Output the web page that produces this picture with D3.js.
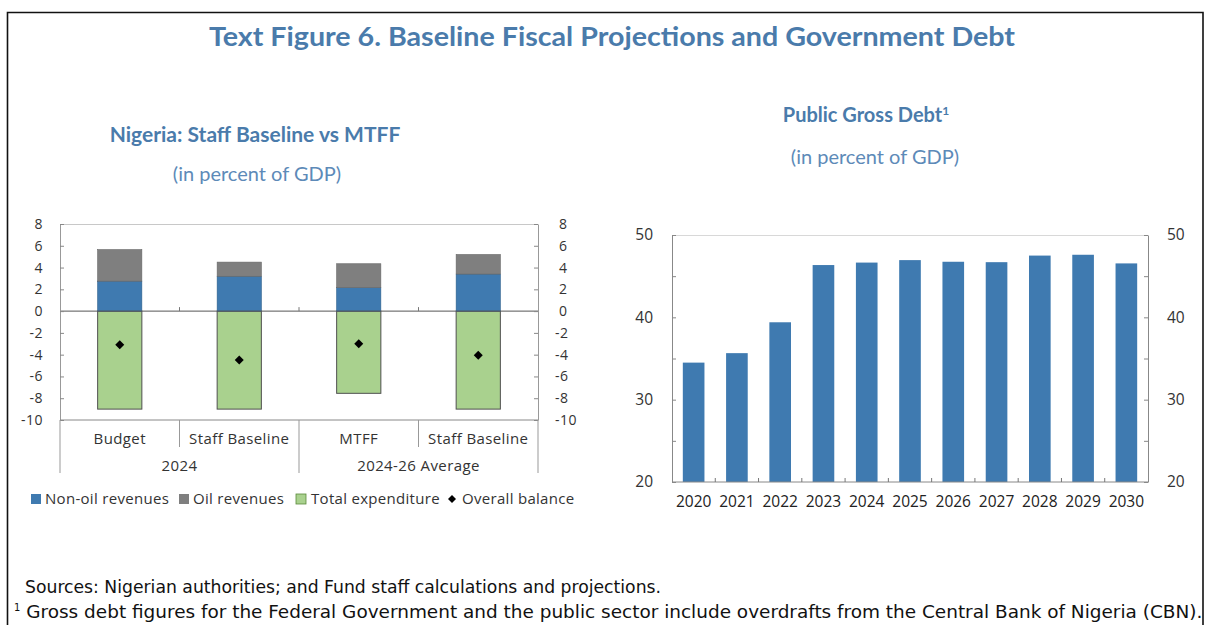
<!DOCTYPE html>
<html><head><meta charset="utf-8">
<script src="https://cdn.jsdelivr.net/npm/d3@7"></script>
<style>
body{margin:0;background:#fff;}
svg{display:block;}
text{font-family:"Open Sans","Noto Sans",sans-serif;}
</style></head>
<body>
<svg id="c" width="1205" height="625"></svg>
<script>
// ---- Data ----
const fiscalCats = ["Budget","Staff Baseline","MTFF","Staff Baseline "];
const fiscalCatLabels = ["Budget","Staff Baseline","MTFF","Staff Baseline"];
const fiscalGroups = ["2024","2024-26 Average"];
const nonOilRev = [2.75, 3.2, 2.15, 3.4];
const oilRev = [2.9, 1.3, 2.2, 1.8];
const totalExp = [9.0, 9.0, 7.55, 9.0];
const overallBal = [-3.1, -4.5, -3.0, -4.05];
const fiscalTicks = [-10,-8,-6,-4,-2,0,2,4,6,8];

const debtYears = ["2020","2021","2022","2023","2024","2025","2026","2027","2028","2029","2030"];
const debtValues = [34.5, 35.65, 39.4, 46.35, 46.65, 46.95, 46.75, 46.7, 47.5, 47.6, 46.55];
const debtTicks = [20,30,40,50];
const debtMinorTicks = [25,35,45];

const legendLabels = ["Non-oil revenues","Oil revenues","Total expenditure","Overall balance"];

// ---- Styles ----
const cBlue = "#3f7ab0", cGray = "#7f7f7f", cGreen = "#a9d18e", cTitle = "#4a7bab";
const svg = d3.select("#c");
const fmt = d => String(d);
const diamond = "M0,-4.5L4.5,0L0,4.5L-4.5,0Z";

// frame
svg.append("path").attr("d","M7.5,625 V12.5 H1203 V625").attr("fill","none").attr("stroke","#111").attr("stroke-width",1.6);

// titles
svg.append("text").attr("x",612).attr("y",46).attr("text-anchor","middle")
  .style("font-family","Lato, 'Open Sans', sans-serif").style("font-weight","bold").style("font-size","27px")
  .attr("fill",cTitle).attr("textLength",806).attr("lengthAdjust","spacingAndGlyphs")
  .text("Text Figure 6. Baseline Fiscal Projections and Government Debt");
svg.append("text").attr("x",255).attr("y",142).attr("text-anchor","middle")
  .style("font-family","Lato, sans-serif").style("font-weight","bold").style("font-size","21px")
  .attr("fill",cTitle).text("Nigeria: Staff Baseline vs MTFF");
svg.append("text").attr("x",257).attr("y",181).attr("text-anchor","middle")
  .style("font-family","Lato, sans-serif").style("font-size","20px")
  .attr("fill","#5d8ab8").text("(in percent of GDP)");
const pg = svg.append("text").attr("x",866).attr("y",122).attr("text-anchor","middle")
  .style("font-family","Lato, sans-serif").style("font-weight","bold").style("font-size","20px")
  .attr("fill",cTitle);
pg.append("tspan").text("Public Gross Debt");
pg.append("tspan").attr("dy",-7).style("font-size","12px").text("1");
svg.append("text").attr("x",875).attr("y",164).attr("text-anchor","middle")
  .style("font-family","Lato, sans-serif").style("font-size","20px")
  .attr("fill","#5d8ab8").text("(in percent of GDP)");

// ---- Left chart ----
const L = {x0:60, x1:538, y0:224, y1:420};
const xL = d3.scaleBand().domain(fiscalCats).range([L.x0,L.x1]).paddingInner(0.63).paddingOuter(0.315);
const yL = d3.scaleLinear().domain([-10,8]).range([L.y1,L.y0]);
const gL = svg.append("g");

gL.append("line").attr("x1",L.x0).attr("x2",L.x1).attr("y1",L.y0+0.5).attr("y2",L.y0+0.5).attr("stroke","#c8c8c8");

// bars
gL.selectAll("rect.exp").data(fiscalCats).join("rect")
  .attr("x",d=>xL(d)).attr("width",xL.bandwidth())
  .attr("y",yL(0)).attr("height",(d,i)=>yL(-totalExp[i])-yL(0))
  .attr("fill",cGreen).attr("stroke","#505050").attr("stroke-width",1);
gL.selectAll("rect.non").data(fiscalCats).join("rect")
  .attr("x",d=>xL(d)).attr("width",xL.bandwidth())
  .attr("y",(d,i)=>yL(nonOilRev[i])).attr("height",(d,i)=>yL(0)-yL(nonOilRev[i]))
  .attr("fill",cBlue).attr("stroke","#2d5f8c").attr("stroke-width",0.6);
gL.selectAll("rect.oil").data(fiscalCats).join("rect")
  .attr("x",d=>xL(d)).attr("width",xL.bandwidth())
  .attr("y",(d,i)=>yL(nonOilRev[i]+oilRev[i])).attr("height",(d,i)=>yL(nonOilRev[i])-yL(nonOilRev[i]+oilRev[i]))
  .attr("fill",cGray).attr("stroke","#666").attr("stroke-width",0.6);

gL.append("line").attr("x1",L.x0).attr("x2",L.x1).attr("y1",yL(0)).attr("y2",yL(0)).attr("stroke","#555").attr("stroke-width",1);
[1,2,3].forEach(k=>{
  const xx = L.x0 + k*xL.step();
  gL.append("line").attr("x1",xx).attr("x2",xx).attr("y1",yL(0)).attr("y2",yL(0)-4).attr("stroke","#777");
});

// diamonds
gL.selectAll("path.dia").data(fiscalCats).join("path")
  .attr("d",diamond)
  .attr("transform",(d,i)=>`translate(${xL(d)+xL.bandwidth()/2},${yL(overallBal[i])})`)
  .attr("fill","#000");

// axes
const axL = d3.axisLeft(yL).tickValues(fiscalTicks).tickSizeInner(-4).tickSizeOuter(0).tickPadding(17).tickFormat(fmt);
const axR = d3.axisRight(yL).tickValues(fiscalTicks).tickSizeInner(-4).tickSizeOuter(0).tickPadding(17).tickFormat(fmt);
const gax1 = gL.append("g").attr("transform",`translate(${L.x0},0)`).call(axL);
const gax2 = gL.append("g").attr("transform",`translate(${L.x1},0)`).call(axR);
[gax1,gax2].forEach(g=>{
  g.select(".domain").attr("stroke","#999");
  g.selectAll(".tick line").attr("stroke","#888");
  g.selectAll("text").style("font-size","14px").style("letter-spacing","0.5px").attr("fill","#333");
});
gax2.selectAll("text").attr("x",d=>d<0?17:21);

// category axis
gL.append("line").attr("x1",L.x0).attr("x2",L.x1).attr("y1",L.y1).attr("y2",L.y1).attr("stroke","#888");
[0,2,4].forEach(k=>{
  const xx = L.x0 + k*xL.step();
  gL.append("line").attr("x1",xx).attr("x2",xx).attr("y1",L.y1).attr("y2",473).attr("stroke","#999");
});
[1,3].forEach(k=>{
  const xx = L.x0 + k*xL.step();
  gL.append("line").attr("x1",xx).attr("x2",xx).attr("y1",L.y1).attr("y2",447).attr("stroke","#999");
});
gL.selectAll("text.cat").data(fiscalCats).join("text")
  .attr("x",d=>xL(d)+xL.bandwidth()/2).attr("y",444).attr("text-anchor","middle")
  .style("font-size","15px").style("letter-spacing","0.4px").attr("fill","#333").text((d,i)=>fiscalCatLabels[i]);
gL.selectAll("text.grp").data(fiscalGroups).join("text")
  .attr("x",(d,i)=>L.x0 + (i*2+1)*xL.step()).attr("y",471).attr("text-anchor","middle")
  .style("font-size","15px").style("letter-spacing","0.4px").attr("fill","#333").text(d=>d);

// legend
const legSq = [31, 179, 296, 452];
const legTx = [45, 193, 311, 462];
const legG = gL.append("g");
legendLabels.forEach((lab,i)=>{
  const y = 499;
  if(i<3){
    legG.append("rect").attr("x",legSq[i]).attr("y",y-5).attr("width",10).attr("height",10)
      .attr("fill",[cBlue,cGray,cGreen][i]).attr("stroke",i==2?"#5a8a3a":"none").attr("stroke-width",0.8);
  } else {
    legG.append("path").attr("d","M0,-4L4,0L0,4L-4,0Z").attr("transform",`translate(${legSq[i]},${y})`).attr("fill","#000");
  }
  legG.append("text").attr("x",legTx[i]).attr("y",y+5).style("font-size","15px").style("letter-spacing","0.3px").attr("fill","#333").text(lab);
});

// ---- Right chart ----
const R = {x0:672, x1:1148, y0:235, y1:482};
const xR = d3.scaleBand().domain(debtYears).range([R.x0,R.x1]).paddingInner(0.5).paddingOuter(0.25);
const yR = d3.scaleLinear().domain([20,50]).range([R.y1,R.y0]);
const gR = svg.append("g");
gR.append("line").attr("x1",R.x0).attr("x2",R.x1).attr("y1",R.y0+0.5).attr("y2",R.y0+0.5).attr("stroke","#d8d8d8");
gR.selectAll("rect").data(debtYears).join("rect")
  .attr("x",d=>xR(d)).attr("width",xR.bandwidth())
  .attr("y",(d,i)=>yR(debtValues[i])).attr("height",(d,i)=>yR(20)-yR(debtValues[i]))
  .attr("fill",cBlue);
const allT = debtTicks.concat(debtMinorTicks);
const aL = d3.axisLeft(yR).tickValues(allT).tickSizeInner(-4).tickSizeOuter(0).tickPadding(19)
  .tickFormat(d=>debtTicks.includes(d)?fmt(d):"");
const aR = d3.axisRight(yR).tickValues(allT).tickSizeInner(-4).tickSizeOuter(0).tickPadding(19)
  .tickFormat(d=>debtTicks.includes(d)?fmt(d):"");
const ga1 = gR.append("g").attr("transform",`translate(${R.x0},0)`).call(aL);
const ga2 = gR.append("g").attr("transform",`translate(${R.x1},0)`).call(aR);
[ga1,ga2].forEach(g=>{
  g.select(".domain").attr("stroke","#888");
  g.selectAll(".tick line").attr("stroke","#888");
  g.selectAll("text").style("font-size","15.5px").attr("fill","#333");
});
gR.append("line").attr("x1",R.x0).attr("x2",R.x1).attr("y1",R.y1).attr("y2",R.y1).attr("stroke","#888");
debtYears.slice(1).forEach((d)=>{
  const xx = xR(d) - (xR.step()-xR.bandwidth())/2;
  gR.append("line").attr("x1",xx).attr("x2",xx).attr("y1",R.y1).attr("y2",R.y1-4).attr("stroke","#777");
});
gR.selectAll("text.yr").data(debtYears).join("text")
  .attr("x",d=>xR(d)+xR.bandwidth()/2).attr("y",507).attr("text-anchor","middle")
  .style("font-size","15.5px").attr("fill","#222").text(d=>d);

// ---- Footer ----
svg.append("text").attr("x",25).attr("y",593).style("font-family","'Liberation Sans Narrow','DejaVu Sans Condensed',sans-serif")
  .style("font-size","17px").attr("fill","#111").attr("textLength",636).attr("lengthAdjust","spacingAndGlyphs")
  .text("Sources: Nigerian authorities; and Fund staff calculations and projections.");
const fn = svg.append("text").attr("x",14).attr("y",618).style("font-family","'Liberation Sans Narrow','DejaVu Sans Condensed',sans-serif")
  .style("font-size","17px").attr("fill","#111");
fn.append("tspan").attr("dy",-7).style("font-size","11px").text("1");
fn.append("tspan").attr("dy",7).attr("dx",6).attr("textLength",1176).attr("lengthAdjust","spacingAndGlyphs")
  .text("Gross debt figures for the Federal Government and the public sector include overdrafts from the Central Bank of Nigeria (CBN).");
</script>
</body></html>
